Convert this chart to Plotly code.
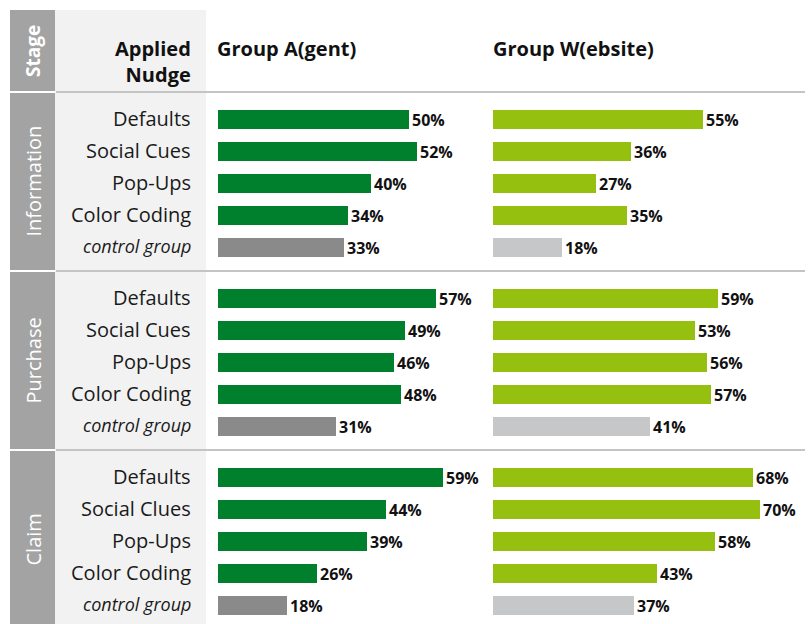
import plotly.graph_objects as go

W, H = 812, 624

stages = ["Information", "Purchase", "Claim"]
nudges = [
    ["Defaults", "Social Cues", "Pop-Ups", "Color Coding", "control group"],
    ["Defaults", "Social Cues", "Pop-Ups", "Color Coding", "control group"],
    ["Defaults", "Social Clues", "Pop-Ups", "Color Coding", "control group"],
]
group_a = [[50, 52, 40, 34, 33], [57, 49, 46, 48, 31], [59, 44, 39, 26, 18]]
group_w = [[55, 36, 27, 35, 18], [59, 53, 56, 57, 41], [68, 70, 58, 43, 37]]
group_titles = ["Group A(gent)", "Group W(ebsite)"]

COL_A, COL_W = "#007f2d", "#95c00f"
COL_A_CTRL, COL_W_CTRL = "#8a8a8a", "#c6c7c8"
STAGE_BG, LABEL_BG, SEP = "#a3a3a3", "#f2f2f2", "#c4c4c4"
FONT = "Open Sans"

# layout geometry (pixels)
HEADER_LINE = 92
SECTION_PITCH = 179
ROW0 = 27
ROW_PITCH = 32
BAR_H = 19
SCALE = 3.82
XMAX = 70
XA0, XW0 = 218, 493


def px(x):
    return x / W


ys, a_vals, w_vals, a_cols, w_cols, labels = [], [], [], [], [], []
for s, stage in enumerate(stages):
    top = HEADER_LINE + s * SECTION_PITCH
    for r, name in enumerate(nudges[s]):
        y = top + ROW0 + r * ROW_PITCH
        ys.append(y)
        a_vals.append(group_a[s][r])
        w_vals.append(group_w[s][r])
        ctrl = name == "control group"
        a_cols.append(COL_A_CTRL if ctrl else COL_A)
        w_cols.append(COL_W_CTRL if ctrl else COL_W)
        labels.append((y, name, ctrl))

fig = go.Figure()
for vals, cols, xa in [(a_vals, a_cols, "x"), (w_vals, w_cols, "x2")]:
    fig.add_trace(go.Bar(
        x=vals, y=ys, orientation="h", width=BAR_H,
        marker=dict(color=cols, line=dict(width=0)),
        text=[f"{v}%" for v in vals], textposition="outside",
        textfont=dict(family=FONT, size=16, color="#111111", weight="bold"),
        constraintext="none", cliponaxis=False,
        xaxis=xa, yaxis="y", showlegend=False, hoverinfo="skip",
    ))

shapes = []
shapes.append(dict(type="rect", xref="paper", yref="y", x0=px(55), x1=px(206),
                   y0=10, y1=H, fillcolor=LABEL_BG, line=dict(width=0), layer="below"))
shapes.append(dict(type="rect", xref="paper", yref="y", x0=px(10), x1=px(55),
                   y0=10, y1=HEADER_LINE - 1, fillcolor=STAGE_BG, line=dict(width=0), layer="below"))
for s in range(len(stages)):
    top = HEADER_LINE + s * SECTION_PITCH
    bot = HEADER_LINE + (s + 1) * SECTION_PITCH - 1 if s < len(stages) - 1 else H
    shapes.append(dict(type="rect", xref="paper", yref="y", x0=px(10), x1=px(55),
                       y0=top + 1, y1=bot, fillcolor=STAGE_BG, line=dict(width=0), layer="below"))
    shapes.append(dict(type="line", xref="paper", yref="y", x0=px(56), x1=px(805),
                       y0=top, y1=top, line=dict(color=SEP, width=2), layer="below"))

annotations = []
annotations.append(dict(text="<b>Stage</b>", xref="paper", yref="y", x=px(33), y=51,
                        xanchor="center", yanchor="middle",
                        textangle=-90, showarrow=False, font=dict(family=FONT, size=19, color="white")))
annotations.append(dict(text="<b>Applied<br>Nudge</b>", xref="paper", yref="y", x=px(193), y=61,
                        xanchor="right", align="right", showarrow=False,
                        font=dict(family=FONT, size=20, color="#111111")))
for xpos, t in zip([215, 491], group_titles):
    annotations.append(dict(text=f"<b>{t}</b>", xref="paper", yref="y", x=px(xpos), y=48,
                            xanchor="left", showarrow=False,
                            font=dict(family=FONT, size=20, color="#111111")))
for s, stage in enumerate(stages):
    top = HEADER_LINE + s * SECTION_PITCH
    annotations.append(dict(text=stage, xref="paper", yref="y", x=px(33),
                            y=top + SECTION_PITCH / 2, textangle=-90, showarrow=False,
                            xanchor="center", yanchor="middle",
                            font=dict(family=FONT, size=20, color="white")))
for y, name, ctrl in labels:
    annotations.append(dict(text=f"<i>{name}</i>" if ctrl else name, xref="paper", yref="y",
                            x=px(193), y=y - 1, xanchor="right", showarrow=False,
                            font=dict(family=FONT, size=18 if ctrl else 20, color="#1a1a1a")))

axis_common = dict(range=[0, XMAX], visible=False, fixedrange=True)
fig.update_layout(
    width=W, height=H, margin=dict(l=0, r=0, t=0, b=0),
    paper_bgcolor="white", plot_bgcolor="rgba(0,0,0,0)",
    xaxis=dict(domain=[px(XA0), px(XA0 + XMAX * SCALE)], anchor="y", **axis_common),
    xaxis2=dict(domain=[px(XW0), px(XW0 + XMAX * SCALE)], anchor="y", **axis_common),
    yaxis=dict(range=[H, 0], domain=[0, 1], visible=False, fixedrange=True),
    shapes=shapes, annotations=annotations, bargap=0,
)

fig.write_html("out.html", config={"displayModeBar": False},
               post_script="document.body.style.margin='0px';")
